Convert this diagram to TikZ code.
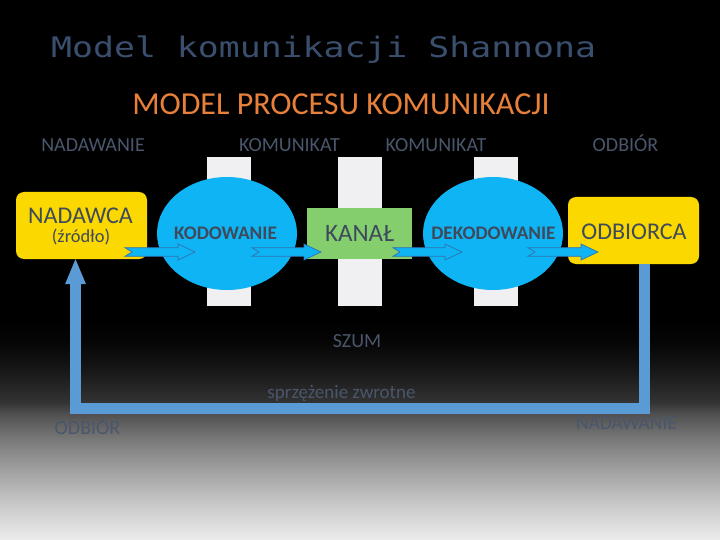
\documentclass[tikz,border=0pt]{standalone}
\usepackage{fontspec}
\setmainfont{Carlito}
\newfontfamily\monoT[FakeStretch=1.23]{DejaVu Sans Mono}
\usetikzlibrary{calc,shapes.geometric}
\definecolor{titleblue}{HTML}{3A4F6E}
\definecolor{orangeT}{HTML}{E8803A}
\definecolor{lblgray}{HTML}{4A566B}
\definecolor{boxtext}{HTML}{3E4A5C}
\definecolor{yel}{HTML}{FAD800}
\definecolor{sky}{HTML}{0EB4F4}
\definecolor{grn}{HTML}{84CE6E}
\definecolor{barw}{HTML}{F0F0F2}
\definecolor{fbblue}{HTML}{5B9BD5}
\definecolor{arrline}{HTML}{2F72B0}
\pgfdeclareverticalshading{bgshade}{100bp}{%
  color(0bp)=(white!92.5!black); color(25bp)=(white!92.5!black);
  color(34.09bp)=(white!76.9!black); color(40.91bp)=(white!62.7!black);
  color(47.73bp)=(white!47.8!black); color(53.64bp)=(white!31.4!black);
  color(56.36bp)=(white!20!black); color(61.36bp)=(white!12.2!black);
  color(65.91bp)=(white!6.3!black); color(70.45bp)=(white!2!black);
  color(75bp)=(black); color(100bp)=(black)}
\newcommand\fsz[1]{\fontsize{#1}{#1}\selectfont}
\newcommand\notcharrow[2]{%
  \path[blockarr] let \p1=(#1), \p2=(#2) in
    (\x1,{\y1+4.3pt}) -- ({\x2-17pt},{\y1+4.3pt}) -- ({\x2-17pt},{\y1+8pt})
    -- (\x2,\y1) -- ({\x2-17pt},{\y1-8pt}) -- ({\x2-17pt},{\y1-4.3pt})
    -- (\x1,{\y1-4.3pt}) -- ({\x1+7pt},\y1) -- cycle;}
\tikzset{
  lbl/.style={font=\fsz{20}, text=lblgray, inner sep=0pt, anchor=base},
  intext/.style={text=boxtext, inner sep=0pt, anchor=base},
  ybox/.style={fill=yel, rounded corners=8pt, minimum width=131pt, minimum height=67pt, inner sep=0pt},
  ellbox/.style={ellipse, fill=sky, minimum width=140pt, minimum height=113pt, inner sep=0pt},
  greenbox/.style={fill=grn, minimum width=105pt, minimum height=51pt, inner sep=0pt},
  barbox/.style={fill=barw, minimum width=44pt, minimum height=149pt, inner sep=0pt},
  blockarr/.style={fill=sky, draw=arrline, line width=0.7pt, line join=miter},
  fbline/.style={draw=fbblue, line width=11pt, line join=miter}
}
\begin{document}
\begin{tikzpicture}[x=1pt,y=-1pt]
\useasboundingbox (0,0) rectangle (720,540);
% background
\fill[black] (0,0) rectangle (720,540);
\shade[shading=bgshade] (0,320) rectangle (720,540);
% titles
\node[font=\monoT\fsz{28.3}, text=titleblue, inner sep=0pt, anchor=base west] (title) at (51,57.3) {Model komunikacji Shannona};
\node[font=\fsz{32}, text=orangeT, inner sep=0pt, anchor=base] (subtitle) at (341,115) {MODEL PROCESU KOMUNIKACJI};
% top labels
\node[lbl] (lnad) at (93,152) {NADAWANIE};
\node[lbl] (lkom1) at (289.5,152) {KOMUNIKAT};
\node[lbl] (lkom2) at (436,152) {KOMUNIKAT};
\node[lbl] (lodb) at (625.5,152) {ODBIÓR};
% white bars
\node[barbox] (bar1) at (229,231.5) {};
\node[barbox] (bar2) at (360,231.5) {};
\node[barbox] (bar3) at (495.5,231.5) {};
% shapes
\node[ybox] (nadawca) at (81.5,225.5) {};
\node[ybox] (odbiorca) at (633.5,230.5) {};
\node[ellbox] (kod) at (227,233.5) {};
\node[ellbox] (dekod) at (493,233.5) {};
\node[greenbox] (kanal) at (359.5,233.5) {};
% texts in shapes
\node[intext, font=\fsz{24}] (tnad) at (80.5,223) {NADAWCA};
\node[intext, font=\fsz{18.4}] (tzr) at (81,243) {(źródło)};
\node[intext, font=\bfseries\fsz{19.2}] (tkod) at (225.5,240) {KODOWANIE};
\node[intext, font=\fsz{25}] (tkan) at (359.5,241.5) {KANAŁ};
\node[intext, font=\bfseries\fsz{19.2}] (tdek) at (493.5,240) {DEKODOWANIE};
\node[intext, font=\fsz{24}] (todb) at (634,239.3) {ODBIORCA};
% arrows
\coordinate (a1s) at (125,252); \coordinate (a1e) at (195,252);
\coordinate (a2s) at (252,252); \coordinate (a2e) at (321,252);
\coordinate (a3s) at (393,252); \coordinate (a3e) at (462,252);
\coordinate (a4s) at (528,252); \coordinate (a4e) at (598,252);
\notcharrow{a1s}{a1e}
\notcharrow{a2s}{a2e}
\notcharrow{a3s}{a3e}
\notcharrow{a4s}{a4e}
% feedback loop
\coordinate (fbstart) at ($(odbiorca.south)+(11,0)$);
\coordinate (fbtip) at ($(nadawca.south)+(-6,0)$);
\coordinate (fbbase) at ($(fbtip)+(0,25)$);
\coordinate (fby) at (0,408);
\coordinate (fbR) at (fbstart |- fby);
\coordinate (fbL) at (fbtip |- fby);
\draw[fbline] (fbstart) -- (fbR) -- (fbL) -- (fbbase);
\fill[fbblue] ($(fbbase)+(-10.5,0)$) -- ($(fbbase)+(10.5,0)$) -- (fbtip) -- cycle;
% lower labels
\node[lbl] (lszum) at (357,347) {SZUM};
\node[lbl, font=\fsz{19}] (lspr) at (341.5,398) {sprzężenie zwrotne};
\node[lbl] (lodb2) at (87.5,434) {ODBIÓR};
\node[lbl, font=\fsz{19.5}] (lnad2) at (626.5,429.5) {NADAWANIE};
\end{tikzpicture}
\end{document}
